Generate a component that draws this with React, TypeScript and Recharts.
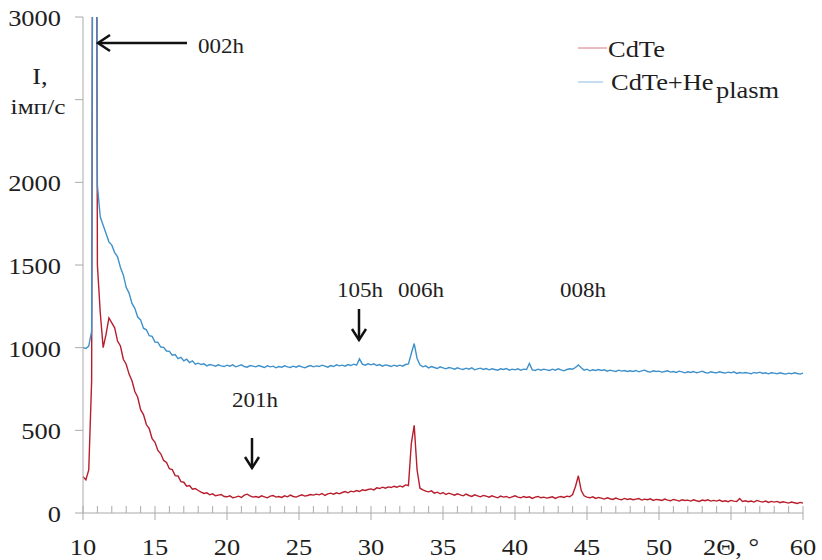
import React from 'react';
import { LineChart, Line, XAxis, YAxis } from 'recharts';

// scan: 2Θ from 10° to 60°, step 0.2°
const START = 10;
const STEP = 0.2;

const cdte = [
  220, 200, 260, 800, 9000, 1500, 1210, 1000, 1080, 1180,
  1150, 1120, 1040, 1010, 930, 900, 840, 800, 735, 700,
  625, 595, 535, 510, 450, 428, 378, 358, 318, 306,
  268, 262, 226, 224, 190, 186, 162, 166, 144, 148,
  136, 126, 118, 122, 110, 116, 104, 108, 112, 100,
  98, 104, 92, 96, 102, 94, 108, 114, 104, 96,
  100, 94, 104, 98, 92, 102, 106, 96, 100, 94,
  104, 98, 108, 100, 96, 104, 110, 102, 106, 112,
  108, 114, 110, 118, 106, 116, 120, 114, 122, 116,
  124, 130, 122, 132, 128, 136, 130, 140, 136, 142,
  146, 140, 152, 148, 156, 150, 158, 154, 162, 156,
  164, 158, 170, 166, 420, 530, 260, 150, 140, 132,
  128, 134, 120, 126, 116, 124, 112, 120, 114, 108,
  116, 110, 104, 114, 106, 100, 110, 104, 98, 106,
  102, 96, 104, 98, 92, 102, 96, 100, 92, 98,
  104, 96, 92, 100, 94, 98, 88, 96, 100, 92,
  96, 90, 94, 98, 88, 96, 100, 94, 102, 98,
  112, 160, 225, 136, 104, 96, 92, 98, 88, 94,
  90, 84, 92, 86, 82, 90, 84, 80, 88, 82,
  86, 80, 84, 88, 78, 84, 80, 86, 76, 82,
  80, 76, 84, 78, 74, 82, 78, 72, 80, 76,
  78, 72, 80, 74, 70, 78, 74, 80, 72, 76,
  72, 78, 70, 74, 68, 76, 72, 70, 88, 70,
  74, 68, 72, 66, 76, 70, 66, 72, 64, 70,
  66, 70, 62, 68, 64, 60, 66, 62, 58, 64,
  60,
];

const cdteHe = [
  1000, 995, 1010, 1100, 9000, 1980, 1790, 1740, 1690, 1640,
  1620, 1575, 1550, 1485, 1440, 1365, 1330, 1268, 1238, 1185,
  1168, 1118, 1108, 1072, 1068, 1034, 1032, 1004, 1002, 980,
  978, 954, 958, 934, 942, 920, 930, 910, 920, 900,
  906, 898, 902, 890, 898, 894, 888, 896, 890, 886,
  894, 888, 896, 884, 890, 896, 886, 882, 892, 888,
  884, 892, 886, 880, 890, 884, 888, 878, 886, 882,
  890, 884, 880, 888, 882, 890, 884, 878, 886, 892,
  884, 890, 886, 894, 888, 882, 892, 886, 896, 890,
  894, 888, 898, 892, 900, 894, 932, 900, 894, 902,
  896, 902, 892, 898, 888, 896, 892, 886, 894, 888,
  894, 888, 898, 902, 965, 1025, 935, 896, 884, 890,
  878, 886, 880, 874, 884, 878, 872, 880, 876, 870,
  878, 872, 868, 876, 870, 878, 866, 872, 876, 868,
  874, 866, 872, 868, 864, 872, 868, 874, 864, 870,
  866, 872, 864, 870, 868, 905, 866, 862, 870, 864,
  870, 866, 862, 870, 864, 872, 866, 860, 868, 872,
  870, 880, 896, 878, 864, 870, 860, 866, 862, 868,
  862, 866, 858, 864, 860, 856, 864, 858, 862, 856,
  860, 856, 862, 854, 860, 864, 856, 852, 860, 856,
  858, 852, 856, 860, 852, 856, 850, 858, 854, 848,
  854, 850, 856, 848, 852, 858, 850, 846, 854, 850,
  848, 854, 850, 846, 852, 848, 854, 844, 850, 846,
  850, 846, 842, 850, 846, 852, 844, 848, 842, 848,
  846, 842, 848, 844, 840, 846, 842, 848, 844, 840,
  846,
];

const xMajor = [10, 15, 20, 25, 30, 35, 40, 45, 50, 55, 60];
const xMajorLabels = ['10', '15', '20', '25', '30', '35', '40', '45', '50', '2\u0398, \u00b0', '60'];
const yTicks = [0, 500, 1000, 1500, 2000, 2500, 3000];
const yTickLabels = ['0', '500', '1000', '1500', '2000', '', '3000'];

const twoTheta = cdte.map((_, i) => +(START + i * STEP).toFixed(1));
const data = twoTheta.map((x, i) => ({ x, cdte: cdte[i], he: cdteHe[i] }));
const xTicks = Array.from({ length: 51 }, (_, i) => 10 + i);

const FONT = '"Liberation Serif", "Times New Roman", serif';
const INK = '#1e1e1e';
const AXIS = '#aaaaaa';
const RED = '#b81d2c';
const BLUE = '#3f91cb';

const SText = ({ x, y, anchor = 'start', size = 23, children }: any) => (
  <text
    transform={`translate(${x},${y}) scale(1.15,1)`}
    textAnchor={anchor}
    fontSize={size}
    fontFamily={FONT}
    fill={INK}
  >
    {children}
  </text>
);

const XTick = ({ x, y, payload }: any) => {
  const v = payload.value;
  const idx = xMajor.indexOf(v);
  const major = idx >= 0;
  return (
    <g>
      <line x1={x} x2={x} y1={y - 7} y2={major ? y + 7 : y} stroke={AXIS} />
      {major && (
        <SText x={x} y={y + 42} anchor="middle">
          {xMajorLabels[idx]}
        </SText>
      )}
    </g>
  );
};

const YTick = ({ x, y, payload }: any) => (
  <SText x={x} y={y + 9} anchor="end">
    {yTickLabels[yTicks.indexOf(payload.value)]}
  </SText>
);

const DownArrow = ({ x, y1, y2 }: { x: number; y1: number; y2: number }) => (
  <g stroke="#111" strokeWidth={2.5} fill="none">
    <line x1={x} x2={x} y1={y1} y2={y2} />
    <path d={`M${x - 7} ${y2 - 11} L${x} ${y2} L${x + 7} ${y2 - 11}`} />
  </g>
);

const Overlay = () => (
  <svg
    width={822}
    height={560}
    style={{ position: 'absolute', left: 0, top: 0, pointerEvents: 'none' }}
  >
    {/* y title */}
    <SText x={40} y={84} anchor="middle">I,</SText>
    <SText x={38} y={114} anchor="middle" size={22}>імп/с</SText>

    {/* peak labels */}
    <g stroke="#111" strokeWidth={2.5} fill="none">
      <line x1={187} x2={99} y1={43} y2={43} />
      <path d="M110 35 L98 43 L110 51" />
    </g>
    <SText x={198} y={53} size={20}>002h</SText>
    <SText x={337} y={297} size={20}>105h</SText>
    <DownArrow x={359} y1={309} y2={340} />
    <SText x={398} y={297} size={20}>006h</SText>
    <SText x={560} y={297} size={20}>008h</SText>
    <SText x={232} y={407} size={20}>201h</SText>
    <DownArrow x={252} y1={438} y2={468} />

    {/* legend */}
    <line x1={578} x2={607} y1={48} y2={48} stroke={RED} strokeOpacity={0.6} />
    <SText x={608} y={57}>CdTe</SText>
    <line x1={578} x2={603} y1={82} y2={82} stroke={BLUE} strokeOpacity={0.6} />
    <SText x={611} y={90}>CdTe+He</SText>
    <SText x={716} y={98}>plasm</SText>
  </svg>
);

export default function App() {
  return (
    <div style={{ position: 'absolute', left: 0, top: 0, width: 822, height: 560, background: '#fff' }}>
      <LineChart width={822} height={560} data={data} margin={{ top: 17, right: 19, bottom: 0, left: 0 }}>
        <XAxis
          type="number"
          dataKey="x"
          domain={[10, 60]}
          ticks={xTicks}
          interval={0}
          tick={<XTick />}
          tickLine={false}
          tickSize={0}
          tickMargin={0}
          axisLine={{ stroke: AXIS }}
          height={47}
        />
        <YAxis
          type="number"
          domain={[0, 3000]}
          allowDataOverflow
          ticks={yTicks}
          interval={0}
          tick={<YTick />}
          tickLine={{ stroke: AXIS }}
          tickSize={8}
          tickMargin={14}
          axisLine={{ stroke: AXIS }}
          width={83}
        />
        <Line type="linear" dataKey="cdte" stroke={RED} strokeWidth={1.4} dot={false} isAnimationActive={false} />
        <Line type="linear" dataKey="he" stroke={BLUE} strokeWidth={1.4} dot={false} isAnimationActive={false} />
      </LineChart>
      <Overlay />
    </div>
  );
}
